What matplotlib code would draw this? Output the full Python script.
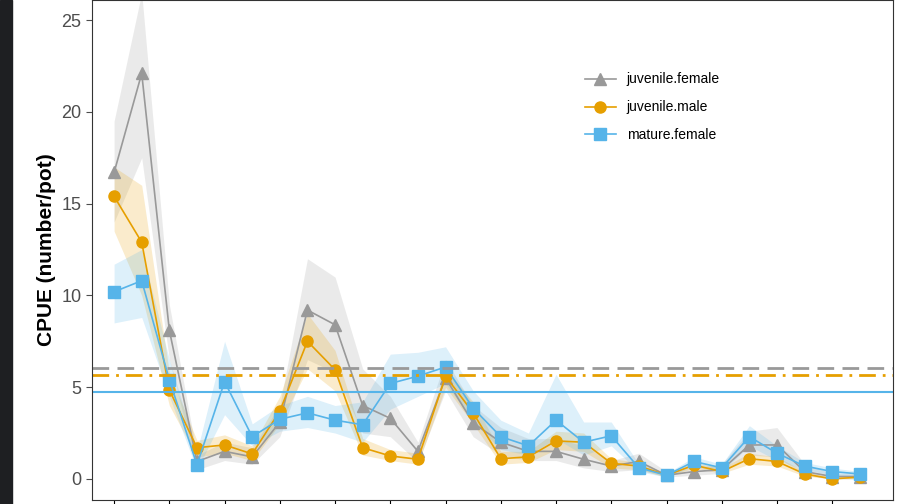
import matplotlib
matplotlib.use("Agg")
import matplotlib.pyplot as plt
from matplotlib.patches import Rectangle
import numpy as np

plt.rcParams['font.family'] = ['Liberation Sans', 'DejaVu Sans']

# CPUE series (28 time steps)
jf = [16.7, 22.1, 8.1, 0.95, 1.5, 1.2, 3.1, 9.2, 8.4, 4.0, 3.3, 1.5, 5.5, 3.05,
      2.0, 1.5, 1.5, 1.07, 0.7, 0.95, 0.2, 0.4, 0.5, 1.85, 1.85, 0.4, 0.13, 0.13]
jf_lo = [14, 17.5, 6.5, 0.5, 1.0, 0.8, 2.3, 6.5, 5.8, 2.5, 2.3, 0.9, 4.8, 2.3,
         1.3, 1.0, 1.0, 0.6, 0.4, 0.5, 0.1, 0.2, 0.3, 1.3, 1.2, 0.2, 0.0, 0.0]
jf_hi = [19.5, 26.5, 9.5, 1.3, 2.0, 1.7, 4.0, 12.0, 11.0, 6.0, 4.5, 2.0, 6.5, 4.0,
         2.8, 2.2, 2.2, 1.8, 1.0, 1.4, 0.4, 0.6, 0.8, 2.6, 2.8, 0.8, 0.3, 0.3]
jm = [15.4, 12.9, 4.85, 1.7, 1.85, 1.36, 3.7, 7.5, 5.95, 1.7, 1.25, 1.07, 5.6, 3.6,
      1.1, 1.2, 2.07, 2.0, 0.85, 0.7, 0.2, 0.75, 0.4, 1.1, 0.95, 0.27, 0.0, 0.1]
jm_lo = [13.5, 10, 4.0, 1.2, 1.4, 1.0, 3.0, 6.0, 4.8, 1.3, 1.0, 0.8, 5.0, 3.0,
         0.8, 0.9, 1.6, 1.5, 0.6, 0.5, 0.1, 0.6, 0.3, 0.8, 0.7, 0.15, 0, 0]
jm_hi = [17, 16, 5.8, 2.1, 2.4, 1.8, 4.5, 9.0, 7.0, 2.2, 1.6, 1.4, 6.0, 4.2,
         1.5, 1.5, 2.6, 2.5, 1.1, 0.9, 0.3, 0.9, 0.6, 1.4, 1.2, 0.4, 0.1, 0.2]
mf = [10.2, 10.8, 5.4, 0.76, 5.3, 2.3, 3.25, 3.6, 3.2, 2.95, 5.2, 5.6, 6.1, 3.85,
      2.3, 1.8, 3.2, 2.0, 2.35, 0.6, 0.2, 0.95, 0.6, 2.3, 1.4, 0.7, 0.4, 0.27]
mf_lo = [8.5, 8.8, 4.5, 0.5, 3.5, 1.8, 2.6, 2.8, 2.5, 2.0, 3.8, 4.5, 5.2, 3.1,
         1.6, 1.3, 2.2, 1.3, 1.8, 0.4, 0.1, 0.7, 0.4, 1.8, 1.0, 0.5, 0.2, 0.1]
mf_hi = [11.7, 12.5, 6.5, 1.5, 7.5, 3.0, 4.0, 4.5, 4.0, 4.2, 6.8, 6.9, 7.2, 4.8,
         3.2, 2.5, 5.7, 3.1, 3.1, 0.8, 0.3, 1.2, 0.8, 2.9, 1.8, 0.9, 0.6, 0.4]
# long-term means
mean_jf, mean_jm, mean_mf = 6.05, 5.65, 4.75

x = np.arange(len(jf))

fig = plt.figure(figsize=(9.02, 5.04), dpi=100)
fig.patches.append(Rectangle((0, 0), 12 / 902, 1, transform=fig.transFigure,
                             color="#1e1f22", zorder=0))
ax = fig.add_axes([92 / 902, 4 / 504, 801 / 902, 500 / 504])

grey, orange, blue = "#999999", "#E69F00", "#56B4E9"
ax.fill_between(x, jf_lo, jf_hi, color=grey, alpha=0.2, lw=0)
ax.fill_between(x, jm_lo, jm_hi, color=orange, alpha=0.2, lw=0)
ax.fill_between(x, mf_lo, mf_hi, color=blue, alpha=0.2, lw=0)
ax.plot(x, jf, color=grey, marker="^", ms=9, lw=1.2, label="juvenile.female")
ax.plot(x, jm, color=orange, marker="o", ms=8, lw=1.2, label="juvenile.male")
ax.plot(x, mf, color=blue, marker="s", ms=8, lw=1.2, label="mature.female")
ax.axhline(mean_jf, color=grey, ls=(0, (6, 3)), lw=2)
ax.axhline(mean_jm, color=orange, ls=(0, (6, 2.5, 1, 2.5)), lw=2)
ax.axhline(mean_mf, color=blue, lw=1.5)

ax.set_xlim(-0.8, 28.2)
ax.set_ylim(-1.15, 26.1)
ax.set_yticks([0, 5, 10, 15, 20, 25])
ax.set_xticks(x[::2])
ax.set_xticklabels([])
ax.tick_params(axis="y", labelsize=13, colors="#4d4d4d", length=4)
ax.tick_params(axis="x", length=4)
ax.set_ylabel("CPUE (number/pot)", fontsize=15, fontweight="bold")
for s in ax.spines.values():
    s.set_color("#333333")
ax.legend(loc="upper left", bbox_to_anchor=(0.6, 0.88), frameon=False,
          fontsize=10, handlelength=2.2, labelspacing=1.0)
fig.savefig("out.png", dpi=100)
